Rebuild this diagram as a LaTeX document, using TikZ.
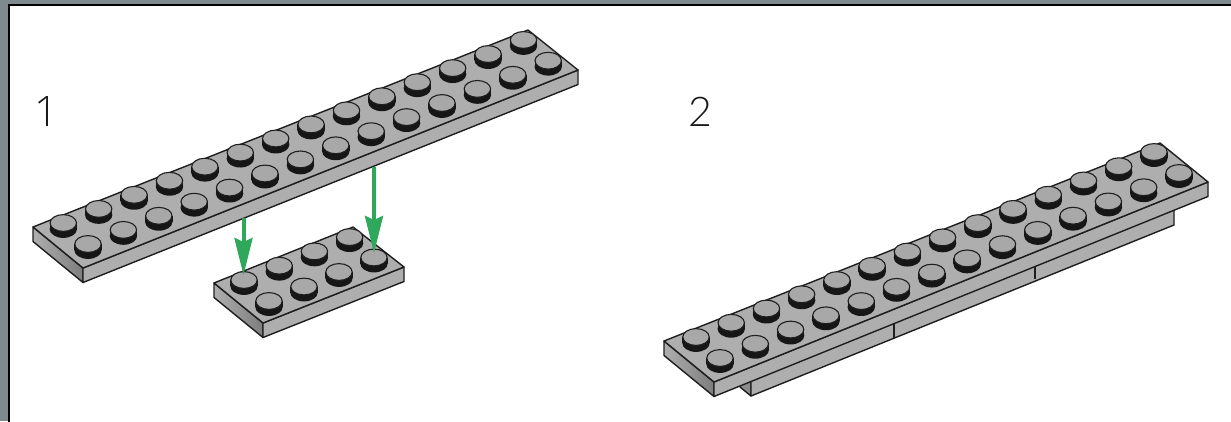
\documentclass[tikz,border=0pt]{standalone}
\usepackage{fontspec}
\setmainfont{Lato Light}
\newfontfamily\footlessfont{Open Sans Light}
\usetikzlibrary{arrows.meta}
\definecolor{frameband}{HTML}{7E8A8D}
\definecolor{brickface}{HTML}{AEAEAE}
\definecolor{brickline}{HTML}{1E1E1E}
\definecolor{studside}{HTML}{161616}
\definecolor{studtop}{HTML}{A8A8A8}
\definecolor{arrowgreen}{HTML}{30A85C}
\tikzset{
  brickedge/.style={draw=brickline,line width=1.4pt,line join=round},
  topface/.style={brickedge,fill=brickface},
  longface/.style={brickedge,fill=brickface},
  shortface/.style={brickedge,left color=brickface,right color=brickface!72!black},
  seam/.style={draw=brickline,line width=1.4pt},
  dropline/.style={draw=arrowgreen,line width=4pt,-{Stealth[length=37pt,width=18pt,inset=4pt]}},
  steplabel/.style={font=\fontsize{41}{41}\selectfont,text=black!90,inner sep=0pt,anchor=center}
}
% plate: left corner, front corner, right corner, back corner, thickness
\newcommand\brickplate[9]{%
  \path[shortface] (#1,#2) -- (#3,#4) -- (#3,#4+#9) -- (#1,#2+#9) -- cycle;
  \path[longface] (#3,#4) -- (#5,#6) -- (#5,#6+#9) -- (#3,#4+#9) -- cycle;
  \path[topface] (#1,#2) -- (#3,#4) -- (#5,#6) -- (#7,#8) -- cycle;
}
% stud row: x0,y0,dx,dy,last index
\newcommand\studrow[5]{%
  \foreach \k in {0,...,#5}{%
    \pgfmathsetmacro\sx{#1+\k*#3}
    \pgfmathsetmacro\sy{#2+\k*#4}
    \fill[studside] (\sx,\sy+6) ellipse [x radius=13.7,y radius=8.9];
    \fill[studside] (\sx-13.7,\sy) rectangle (\sx+13.7,\sy+6);
    \draw[draw=brickline,line width=1.1pt,fill=studtop] (\sx,\sy) ellipse [x radius=13.2,y radius=8.4];
  }%
}
\begin{document}
\begin{tikzpicture}[x=1pt,y=-1pt]
\useasboundingbox (0,0) rectangle (1231,421);
\fill[frameband] (0,0) rectangle (1231,421);
\path[fill=white,draw=black,line width=2pt] (9,5) rectangle (1240,430);

\node[steplabel,font=\fontsize{42}{42}\selectfont\footlessfont] (labelone) at (46,112) {1};
\node[steplabel] (labeltwo) at (700,112) {2};

% small plate
\brickplate{214}{283}{263}{323}{404}{267}{353}{227}{14.5}
\studrow{244}{280}{35.2}{-14.3}{3}
\studrow{269}{301}{35.0}{-14.5}{3}

% long plate, step 1
\brickplate{33}{227}{83}{268}{578}{70}{528}{30}{14.5}
\studrow{63.3}{223}{35.4}{-14.08}{13}
\studrow{88}{244}{35.4}{-14.1}{13}

% arrows
\coordinate (dropAstart) at (243.5,218);
\coordinate (dropAend) at (243.5,275);
\coordinate (dropBstart) at (374,167);
\coordinate (dropBend) at (374,253);
\draw[dropline] (dropAstart) -- (dropAend);
\draw[dropline] (dropBstart) -- (dropBend);

% step 2: lower plate
\path[brickedge,fill=brickface!80!black] (740,387) -- (751,396) -- (751,376) -- (740,380) -- cycle;
\path[longface] (751,378) -- (1174,206) -- (1174,225) -- (751,396) -- cycle;
\draw[seam] (894,323) -- (894,338);
\draw[seam] (1035,266) -- (1035,279);
% step 2: upper plate
\brickplate{664}{341}{714}{382}{1208}{182}{1160}{143}{14.5}
\studrow{696}{337}{35.23}{-14.23}{13}
\studrow{720}{358}{35.31}{-14.23}{13}
\end{tikzpicture}
\end{document}
